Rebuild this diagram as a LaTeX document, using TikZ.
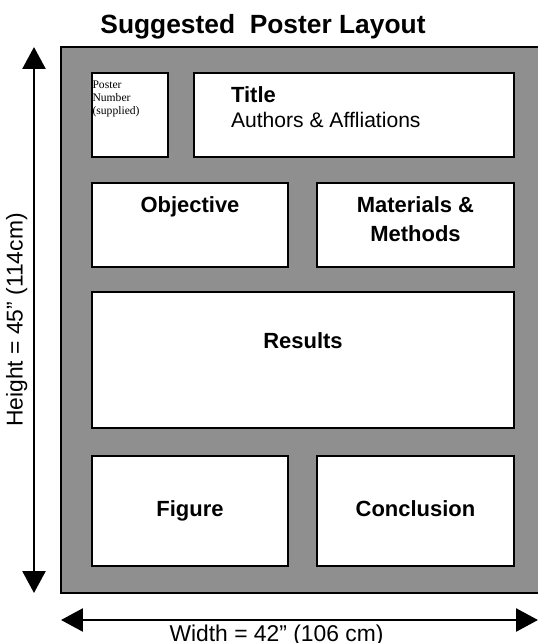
\documentclass[tikz,border=0pt]{standalone}
\usepackage{fontspec}
\setmainfont{Liberation Sans}
\newfontfamily\numfont{Liberation Serif}
\usetikzlibrary{positioning,arrows.meta}
\definecolor{postergray}{RGB}{143,143,143}
\tikzset{
  layout/.style={x=0.02cm,y=-0.02cm},
  sheet/.style={draw,fill=postergray,line width=1.1pt},
  panel/.style={rectangle,draw,fill=white,line width=1.5pt,inner sep=0pt,
    text height=9pt,text depth=3pt,
    align=center,font=\fontsize{12.5}{16}\selectfont\bfseries},
  panel text/.style={inner sep=0pt,align=center,font=\fontsize{12.5}{16}\selectfont\bfseries},
  dimension/.style={{Triangle[width=0.46cm,length=0.44cm]}-{Triangle[width=0.46cm,length=0.44cm]},
    line width=1.5pt},
  dim label/.style={inner sep=0pt,font=\fontsize{13}{15}\selectfont}
}
\begin{document}
\begin{tikzpicture}[layout]
  \useasboundingbox (0,0) rectangle (538,643);
  \node[anchor=base,font=\fontsize{15}{18}\selectfont\bfseries] (heading) at (263,33) {Suggested\ \ Poster Layout};
  \draw[sheet] (61,47) rectangle (548,593);
  % top row
  \node[panel,minimum width=1.52cm,minimum height=1.68cm,
    label={[anchor=north west,xshift=0.03cm,yshift=-0.18cm,inner sep=0pt,align=left,
      font=\numfont\fontsize{6.6}{7.4}\selectfont]north west:{Poster\\Number\\(supplied)}}] (number) at (130,115) {};
  \node[panel,minimum width=6.4cm,minimum height=1.68cm,
    label={[anchor=north west,xshift=0.76cm,yshift=-0.3cm,inner sep=0pt,align=left,
      font=\fontsize{12}{14.2}\selectfont]north west:{{\fontsize{12.5}{14.2}\selectfont\bfseries Title}\\Authors \& Affliations}}] (title) at (354,115) {};
  % middle
  \node[panel,minimum width=3.92cm,minimum height=1.68cm,
    label={[panel text,below=0.3cm]north:Objective}] (objective) at (190,225) {};
  \node[panel,minimum width=3.94cm,minimum height=1.68cm,
    label={[panel text,below=0.3cm]north:{Materials \&\\Methods}}] (methods) at (415.5,225) {};
  \node[panel,minimum width=8.44cm,minimum height=2.72cm,
    label={[panel text,below=0.84cm]north:Results}] (results) at (303,360) {};
  % bottom row
  \node[panel,minimum width=3.92cm,minimum height=2.2cm] (figure) at (190,511) {Figure};
  \node[panel,minimum width=3.94cm,minimum height=2.2cm] (conclusion) at (415.5,511) {Conclusion};
  % dimensions
  \coordinate (htop) at (34,47);
  \coordinate (hbottom) at (34,593);
  \coordinate (wleft) at (61,620);
  \coordinate (wright) at (538,620);
  \draw[dimension] (htop) -- node[dim label,midway,rotate=90,anchor=south,inner sep=3pt] (height) {Height = 45” (114cm)} (hbottom);
  \draw[dimension] (wleft) -- node[dim label,midway,below=2pt,xshift=-0.46cm] (width) {Width = 42” (106 cm)} (wright);
\end{tikzpicture}
\end{document}
